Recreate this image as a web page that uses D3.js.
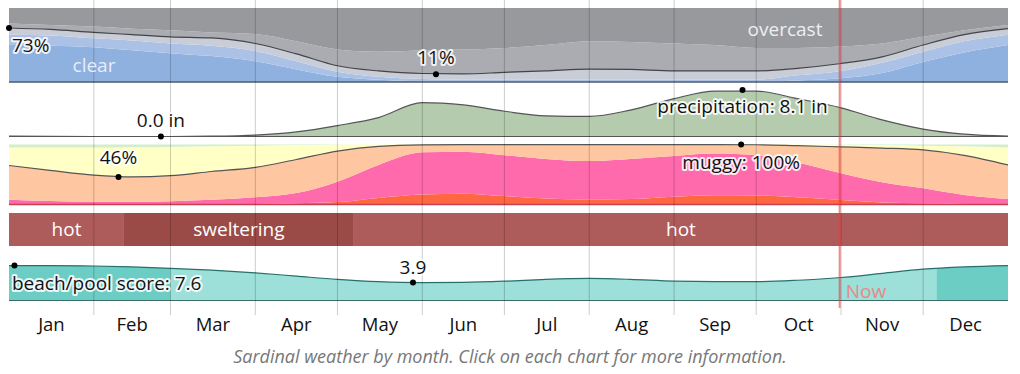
<!DOCTYPE html>
<html lang="en">
<head>
<meta charset="UTF-8" />
<title>Sardinal weather by month</title>
<script src="https://d3js.org/d3.v7.js"></script>
<style>
  body { margin: 0; background: #fff; }
  text { font-family: "Segoe UI", "Open Sans", sans-serif; }
</style>
</head>
<body>
<svg id="chart"></svg>
<script>
    // sample days (day of year): month starts and mid-months
    var days = [0, 15, 31, 45, 59, 74, 90, 105, 120, 135, 151, 166, 181, 196, 212, 227, 243, 258, 273, 288, 304, 319, 334, 349, 365];
    var months = ["Jan", "Feb", "Mar", "Apr", "May", "Jun", "Jul", "Aug", "Sep", "Oct", "Nov", "Dec"];

    // cloud cover, cumulative % from the bottom (clear -> overcast)
    var cloudClear       = [50, 49, 47, 43, 39, 35, 28, 17, 7, 3, 1, 0.5, 0.5, 0.5, 0.5, 0.5, 0.5, 0.5, 0.5, 2, 5, 12, 27, 40, 50];
    var cloudMostlyClear = [64, 63, 59, 56, 52, 49, 42, 28, 14, 7, 4, 3, 3, 3, 3, 3, 3, 3, 3, 9, 15, 26, 41, 55, 64];
    var cloudPartly      = [73, 71, 67, 64, 61, 59.5, 52, 38, 22, 15, 11.5, 11, 13, 15, 17.5, 17, 15, 15, 15, 18.5, 25, 34, 50, 64, 72];
    var cloudMostly      = [79, 77, 75, 72, 70, 67, 65, 55, 44, 41, 43, 44, 46, 50, 55, 54, 52, 50, 46, 46, 48, 52, 61, 70, 77];

    // precipitation, inches
    var precip = [0.05, 0.02, 0, 0, 0, 0.05, 0.25, 0.8, 1.9, 3.3, 5.9, 5.5, 4.4, 3.6, 3.5, 4.6, 6.6, 7.9, 7.9, 6.6, 5.0, 2.9, 1.3, 0.4, 0.05];

    // humidity comfort, cumulative % from the bottom (miserable -> dry)
    var humMiserable  = [0.5, 0.5, 0.5, 0.5, 0.5, 0.8, 1, 2, 4, 11, 16.5, 18, 14, 10, 8, 9, 13, 15.5, 15, 12, 7.5, 3.5, 2, 1, 0.5];
    var humOppressive = [8, 6, 4.5, 4.5, 5.5, 8, 12, 19, 38, 66, 87, 88, 82, 76, 72.5, 76, 81, 85, 82, 70, 52, 37, 27, 16, 9];
    var humMuggy      = [65, 57, 49, 46, 48, 55, 62, 75, 89, 97, 99.5, 99.8, 99.8, 99.8, 99.8, 99.8, 99.8, 99.8, 99.6, 98, 96, 94, 91, 82, 66];
    var humComfort    = [95, 95, 95, 95.5, 96, 97, 98, 99, 99.5, 100, 100, 100, 100, 100, 100, 100, 100, 100, 100, 100, 99.5, 99, 98, 97, 95];

    // beach / pool score (0-10)
    var beach = [7.6, 7.6, 7.5, 7.3, 7.0, 6.6, 6.0, 5.3, 4.6, 4.1, 3.9, 3.95, 4.2, 4.6, 4.8, 4.6, 4.2, 4.1, 4.1, 4.4, 5.0, 5.9, 6.8, 7.3, 7.6];
    var beachBestStart = [0, 339];
    var beachBestEnd = [59, 365];

    // temperature bands
    var tempStart = [0, 42, 126];
    var tempEnd = [42, 126, 365];
    var tempLabel = ["hot", "sweltering", "hot"];

    var nowDay = 303.5;

    var width = 1020, height = 374;
    var svg = d3.select("#chart").attr("width", width).attr("height", height);

    var year0 = Date.UTC(2023, 0, 1);
    function dayDate(d) { return new Date(year0 + d * 86400000); }

    var x = d3.scaleUtc()
        .domain([dayDate(0), dayDate(365)])
        .range([9, 1008]);
    function xd(d) { return x(dayDate(d)); }

    var pts = days.map((d, i) => i);

    // ---------- cloud panel ----------
    var yCloud = d3.scaleLinear().domain([0, 100]).range([82, 8]);
    var cloudBands = [
        [null, cloudClear, "#8fb1e0"],
        [cloudClear, cloudMostlyClear, "#abc2e6"],
        [cloudMostlyClear, cloudPartly, "#c8cdd8"],
        [cloudPartly, cloudMostly, "#aaacb2"],
        [cloudMostly, null, "#98999d"]
    ];
    cloudBands.forEach(function (b) {
        var area = d3.area()
            .x(i => xd(days[i]))
            .y0(i => yCloud(b[0] ? b[0][i] : 0))
            .y1(i => yCloud(b[1] ? b[1][i] : 100))
            .curve(d3.curveMonotoneX);
        svg.append("path").attr("d", area(pts)).attr("fill", b[2]);
    });
    svg.append("path")
        .attr("d", d3.line().x(i => xd(days[i])).y(i => yCloud(cloudPartly[i])).curve(d3.curveMonotoneX)(pts))
        .attr("fill", "none").attr("stroke", "#444").attr("stroke-width", 1.2);
    svg.append("line").attr("x1", xd(0)).attr("x2", xd(365))
        .attr("y1", yCloud(0)).attr("y2", yCloud(0)).attr("stroke", "#4d5a6c").attr("stroke-width", 1.5);

    // ---------- precipitation panel ----------
    var yPrecip = d3.scaleLinear().domain([0, 10]).range([136.5, 79.1]);
    svg.append("path")
        .attr("d", d3.area().x(i => xd(days[i])).y0(yPrecip(0)).y1(i => yPrecip(precip[i])).curve(d3.curveMonotoneX)(pts))
        .attr("fill", "#b4cbae");
    svg.append("path")
        .attr("d", d3.line().x(i => xd(days[i])).y(i => yPrecip(precip[i])).curve(d3.curveMonotoneX)(pts))
        .attr("fill", "none").attr("stroke", "#555").attr("stroke-width", 1.2);
    svg.append("line").attr("x1", xd(0)).attr("x2", xd(365))
        .attr("y1", yPrecip(0)).attr("y2", yPrecip(0)).attr("stroke", "#555").attr("stroke-width", 1.2);

    // ---------- humidity panel ----------
    var yHum = d3.scaleLinear().domain([0, 100]).range([204.5, 144.5]);
    var humBands = [
        [null, humMiserable, "#ff6642"],
        [humMiserable, humOppressive, "#ff6aad"],
        [humOppressive, humMuggy, "#ffc6a2"],
        [humMuggy, humComfort, "#ffffc6"],
        [humComfort, null, "#d2eecb"]
    ];
    humBands.forEach(function (b) {
        var area = d3.area()
            .x(i => xd(days[i]))
            .y0(i => yHum(b[0] ? b[0][i] : 0))
            .y1(i => yHum(b[1] ? b[1][i] : 100))
            .curve(d3.curveMonotoneX);
        svg.append("path").attr("d", area(pts)).attr("fill", b[2]);
    });
    svg.append("path")
        .attr("d", d3.line().x(i => xd(days[i])).y(i => yHum(humMuggy[i])).curve(d3.curveMonotoneX)(pts))
        .attr("fill", "none").attr("stroke", "#555").attr("stroke-width", 1.2);
    svg.append("line").attr("x1", xd(0)).attr("x2", xd(365))
        .attr("y1", yHum(0)).attr("y2", yHum(0)).attr("stroke", "#c8404f").attr("stroke-width", 1.5);

    // ---------- temperature band ----------
    svg.selectAll("rect.temp")
        .data(tempLabel)
        .enter().append("rect")
        .attr("class", "temp")
        .attr("x", (d, i) => xd(tempStart[i]))
        .attr("width", (d, i) => xd(tempEnd[i]) - xd(tempStart[i]))
        .attr("y", 213).attr("height", 33)
        .attr("fill", d => d === "sweltering" ? "#9a4b47" : "#ae5b5b");
    svg.selectAll("text.temp")
        .data(tempLabel)
        .enter().append("text")
        .attr("class", "temp")
        .attr("x", (d, i) => (xd(tempStart[i]) + xd(tempEnd[i])) / 2)
        .attr("y", 236)
        .attr("text-anchor", "middle")
        .attr("font-size", 19)
        .attr("fill", "#fff")
        .text(d => d);

    // ---------- beach / pool panel ----------
    var yBeach = d3.scaleLinear().domain([0, 10]).range([300.5, 254.5]);
    var beachArea = d3.area().x(i => xd(days[i])).y0(yBeach(0)).y1(i => yBeach(beach[i])).curve(d3.curveMonotoneX);
    svg.append("path").attr("d", beachArea(pts)).attr("fill", "#9ddfd9");
    var clip = svg.append("clipPath").attr("id", "best");
    beachBestStart.forEach(function (s, i) {
        clip.append("rect").attr("x", xd(s)).attr("width", xd(beachBestEnd[i]) - xd(s))
            .attr("y", 0).attr("height", height);
    });
    svg.append("path").attr("d", beachArea(pts)).attr("fill", "#6ccdc5").attr("clip-path", "url(#best)");
    svg.append("path")
        .attr("d", d3.line().x(i => xd(days[i])).y(i => yBeach(beach[i])).curve(d3.curveMonotoneX)(pts))
        .attr("fill", "none").attr("stroke", "#27706a").attr("stroke-width", 1.2);
    svg.append("line").attr("x1", xd(0)).attr("x2", xd(365))
        .attr("y1", yBeach(0)).attr("y2", yBeach(0)).attr("stroke", "#3d6b68").attr("stroke-width", 1.2);

    // ---------- month grid ----------
    var monthStarts = d3.utcMonth.range(dayDate(31), dayDate(365));
    svg.selectAll("line.grid")
        .data(monthStarts)
        .enter().append("line")
        .attr("class", "grid")
        .attr("x1", d => x(d)).attr("x2", d => x(d))
        .attr("y1", 0).attr("y2", 315)
        .attr("stroke", "rgba(0,0,0,0.2)").attr("stroke-width", 1);

    // now line
    svg.append("line")
        .attr("x1", xd(nowDay)).attr("x2", xd(nowDay))
        .attr("y1", 0).attr("y2", 308)
        .attr("stroke", "rgba(235,60,60,0.6)").attr("stroke-width", 2);
    svg.append("text").attr("x", xd(nowDay) + 6).attr("y", 298)
        .attr("font-size", 19).attr("fill", "#e58a8a").text("Now");

    // ---------- annotations ----------
    function mark(dx, dy, label, lx, ly, anchor) {
        svg.append("circle").attr("cx", dx).attr("cy", dy).attr("r", 3).attr("fill", "#000");
        svg.append("text").attr("x", lx).attr("y", ly)
            .attr("text-anchor", anchor || "middle")
            .attr("font-size", 19).attr("fill", "#111")
            .attr("stroke", "rgba(255,255,255,0.85)").attr("stroke-width", 4)
            .attr("stroke-linejoin", "round").attr("paint-order", "stroke")
            .text(label);
    }
    mark(xd(0), yCloud(73), "73%", 12, 52, "start");
    mark(xd(156), yCloud(10.5), "11%", xd(156), 64);
    mark(xd(55.5), yPrecip(0), "0.0 in", xd(55.5), 127);
    mark(xd(268), yPrecip(8.1), "precipitation: 8.1 in", xd(268), 113);
    mark(xd(40), yHum(46), "46%", xd(40), 164);
    mark(xd(267.5), yHum(100), "muggy: 100%", xd(267.5), 169);
    mark(xd(2), yBeach(7.6), "beach/pool score: 7.6", 12, 290, "start");
    mark(xd(147.6), yBeach(3.9), "3.9", xd(147.6), 274);

    svg.append("text").attr("x", 785).attr("y", 36).attr("text-anchor", "middle")
        .attr("font-size", 19).attr("fill", "#eceef2").text("overcast");
    svg.append("text").attr("x", 94).attr("y", 72).attr("text-anchor", "middle")
        .attr("font-size", 19).attr("fill", "#e6edf8").text("clear");

    // month labels
    svg.selectAll("text.month")
        .data(months)
        .enter().append("text")
        .attr("class", "month")
        .attr("x", (d, i) => (x(new Date(Date.UTC(2023, i, 1))) + x(new Date(Date.UTC(2023, i + 1, 1)))) / 2)
        .attr("y", 331)
        .attr("text-anchor", "middle")
        .attr("font-size", 18.5).attr("fill", "#111")
        .text(d => d);

    svg.append("text").attr("x", 510).attr("y", 363).attr("text-anchor", "middle")
        .attr("font-size", 18).attr("font-style", "italic").attr("fill", "#777")
        .text("Sardinal weather by month. Click on each chart for more information.");
</script>
</body>
</html>
